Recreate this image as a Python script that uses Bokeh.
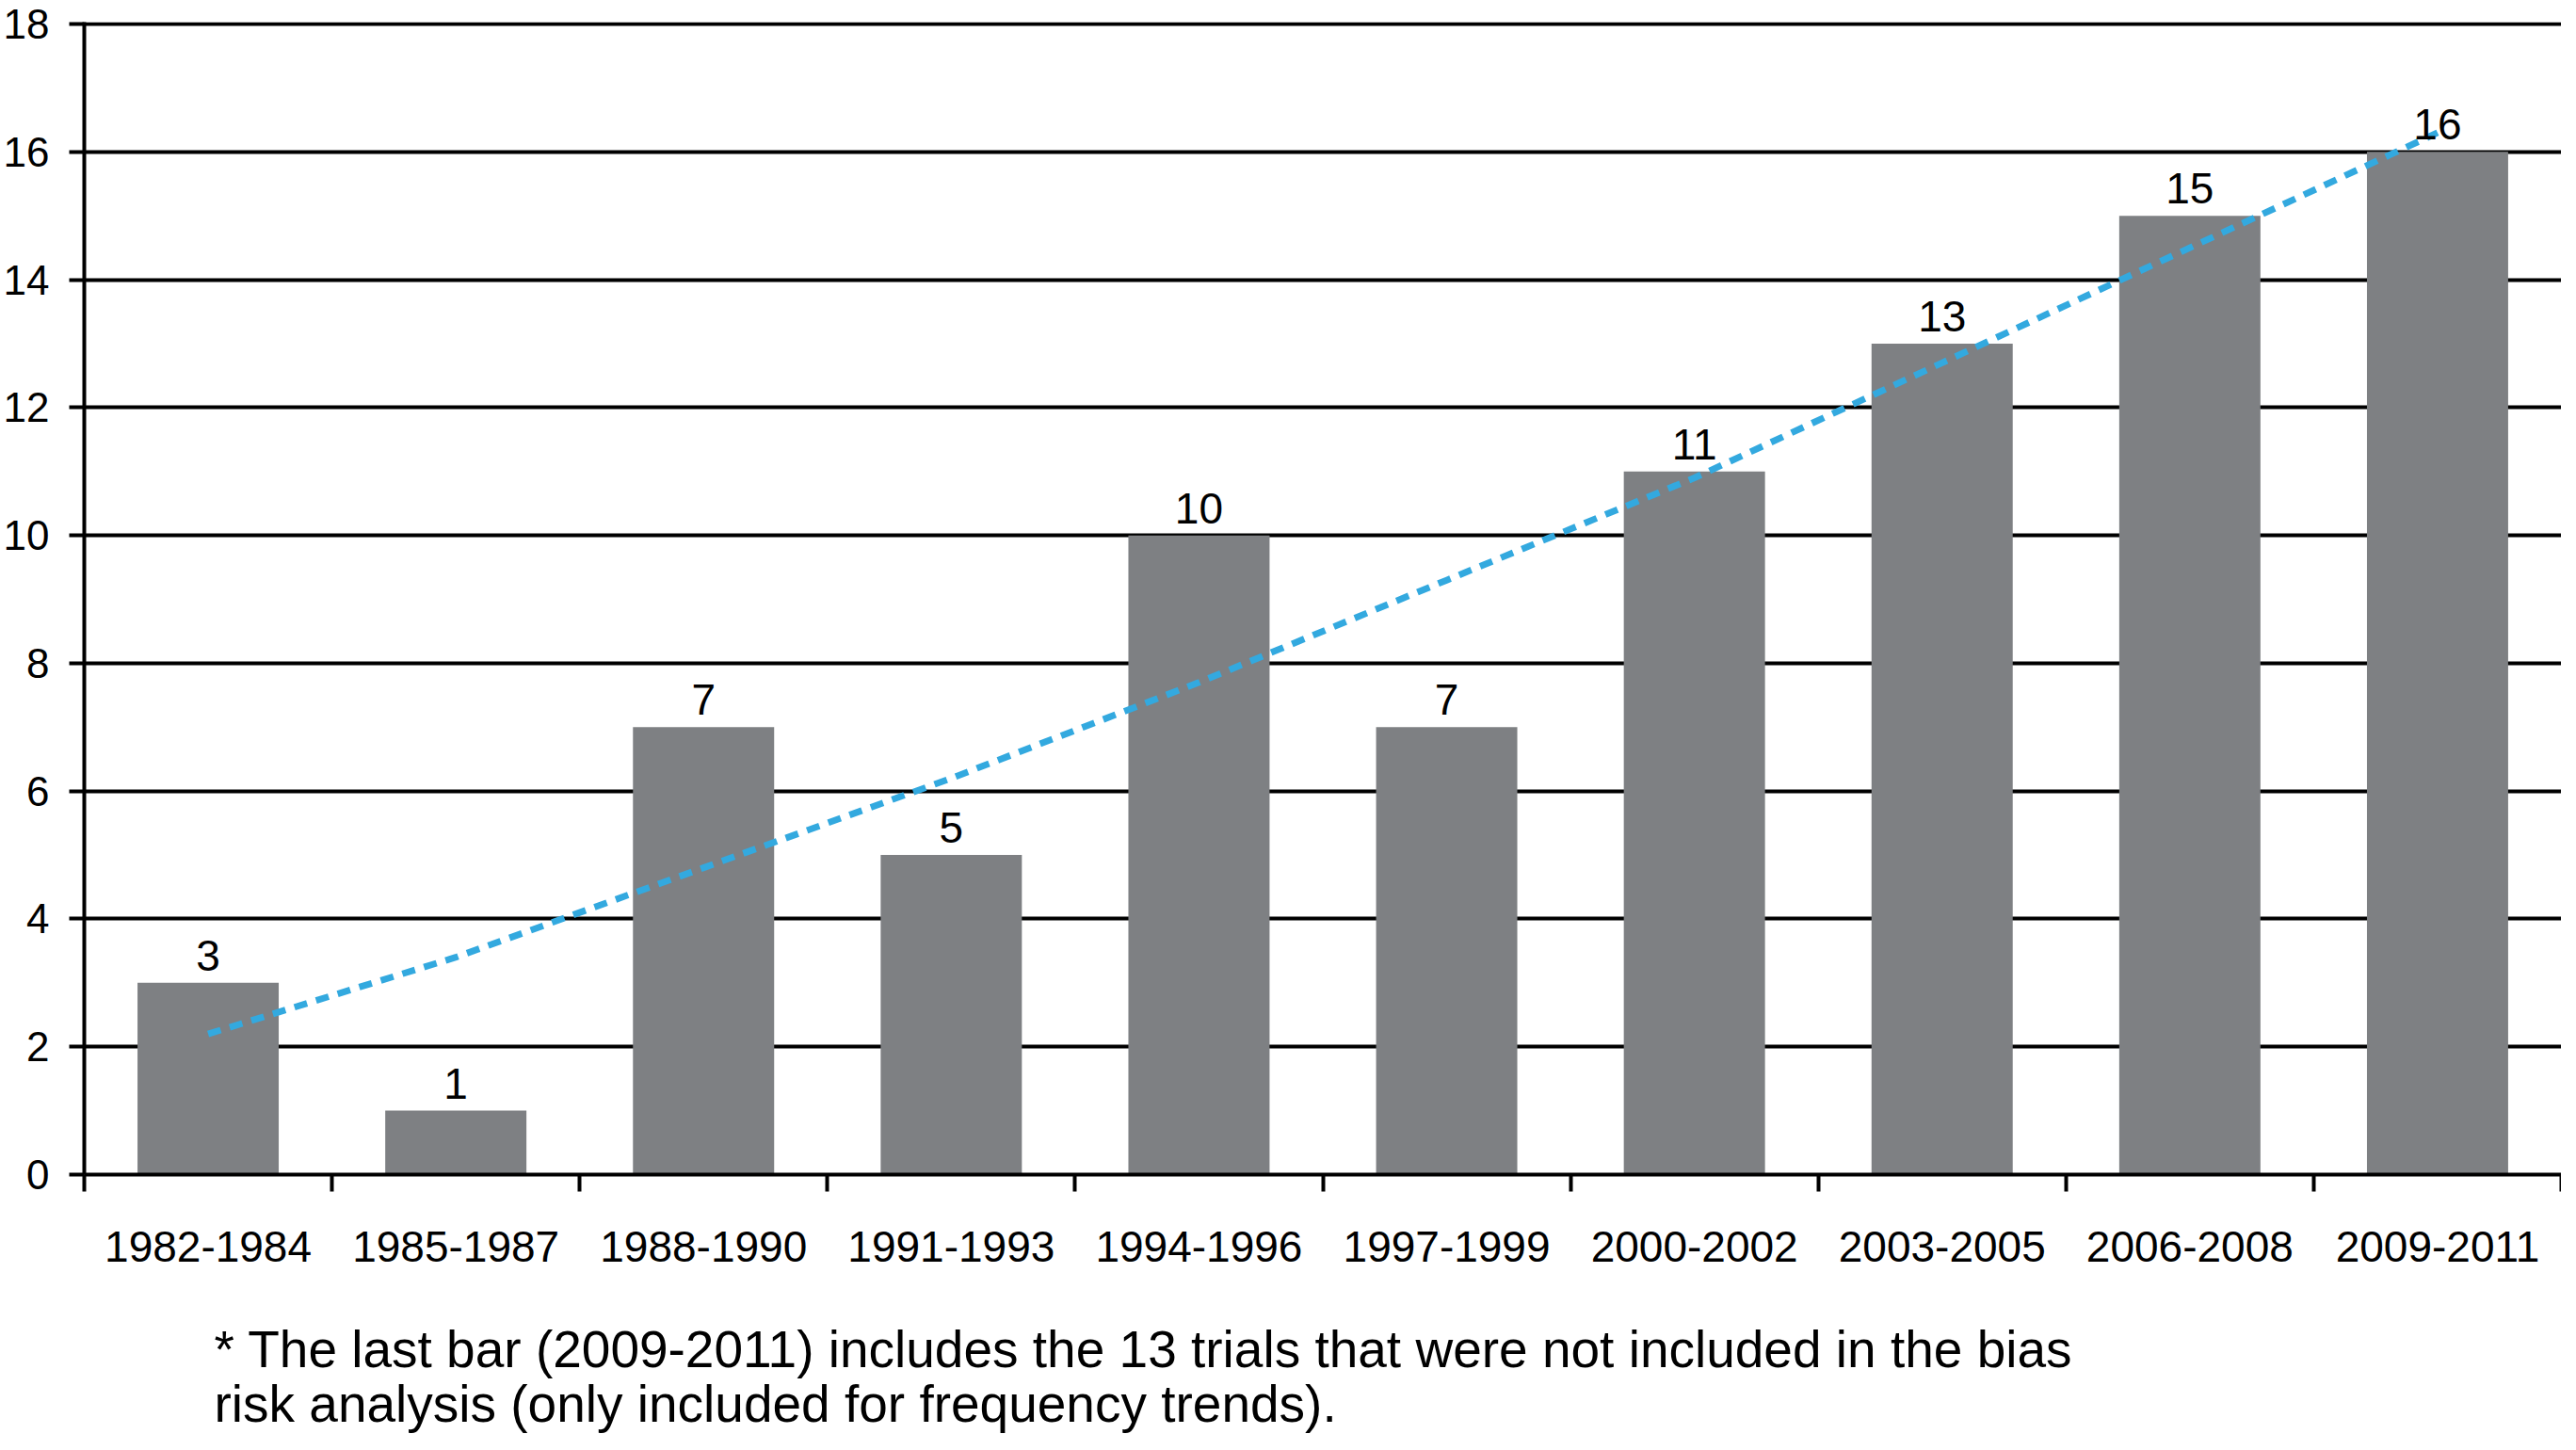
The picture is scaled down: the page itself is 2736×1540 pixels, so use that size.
from bokeh.plotting import figure
from bokeh.models import FixedTicker, ColumnDataSource, Range1d, Title
from bokeh.core.properties import value
from bokeh.embed import file_html
from bokeh.resources import INLINE

# ---- data ----
periods = ["1982-1984", "1985-1987", "1988-1990", "1991-1993", "1994-1996",
           "1997-1999", "2000-2002", "2003-2005", "2006-2008", "2009-2011"]
trials = [3, 1, 7, 5, 10, 7, 11, 13, 15, 16]
trend = [2.2, 3.4, 4.8, 6.2, 7.7, 9.3, 10.9, 12.7, 14.5, 16.3]
y_ticks = [0, 2, 4, 6, 8, 10, 12, 14, 16, 18]
footnote_lines = [
    "* The last bar (2009-2011) includes the 13 trials that were not included in the bias",
    "risk analysis (only included for frequency trends).",
]

FONT = "Liberation Sans"
BAR = "#7e8083"
TREND = "#33a9df"

W, H = 2720, 1524
TOP, BOTTOM, LEFT = 23, 276, 86
Y_END = 18.03

centers = [i + 0.5 for i in range(len(periods))]
src = ColumnDataSource(dict(x=centers, top=trials, trend=trend,
                            lab=[str(v) for v in trials]))

p = figure(width=W, height=H, x_range=Range1d(0, len(periods)),
           y_range=Range1d(0, Y_END), output_backend="svg",
           toolbar_location=None, min_border_left=LEFT, min_border_right=0,
           min_border_top=TOP, min_border_bottom=BOTTOM)
p.outline_line_color = None
p.background_fill_color = "white"
p.border_fill_color = "white"

p.vbar(x="x", top="top", bottom=0, width=0.57, source=src,
       fill_color=BAR, line_color=None)
p.line(x="x", y="trend", source=src, line_color=TREND, line_width=7,
       line_dash="14 10", line_cap="butt")
p.text(x="x", y="top", text="lab", source=src, text_align="center",
       text_baseline="alphabetic", y_offset=-29,
       text_font=value(FONT), text_font_size="46px", text_color="black")

# x axis: labels at centers, tick marks at boundaries
xa = p.xaxis[0]
xa.ticker = FixedTicker(ticks=centers, minor_ticks=list(range(len(periods) + 1)))
xa.major_label_overrides = {c: lab for c, lab in zip(centers, periods)}
xa.major_tick_line_color = None
xa.major_tick_out = 0
xa.major_tick_in = 0
xa.minor_tick_line_color = "black"
xa.minor_tick_line_width = 4
xa.minor_tick_out = 18
xa.minor_tick_in = 0
xa.axis_line_color = "black"
xa.axis_line_width = 4
xa.major_label_text_font = FONT
xa.major_label_text_font_size = "46px"
xa.major_label_text_color = "black"
xa.major_label_standoff = 42

ya = p.yaxis[0]
ya.ticker = FixedTicker(ticks=y_ticks, minor_ticks=[])
ya.major_tick_line_color = "black"
ya.major_tick_line_width = 4
ya.major_tick_out = 16
ya.major_tick_in = 0
ya.minor_tick_line_color = None
ya.axis_line_color = "black"
ya.axis_line_width = 4
ya.major_label_text_font = FONT
ya.major_label_text_font_size = "44px"
ya.major_label_text_color = "black"
ya.major_label_standoff = 21

p.xgrid.grid_line_color = None
p.ygrid.ticker = FixedTicker(ticks=y_ticks)
p.ygrid.grid_line_color = "black"
p.ygrid.grid_line_width = 4

# footnote as two title lines below the axis
for line, so in zip(footnote_lines, [118, -130]):
    p.add_layout(Title(text=line, align="left", offset=138,
                       vertical_align="top",
                       text_font=FONT, text_font_size="55px",
                       text_font_style="normal", text_color="black",
                       standoff=so), "below")

open("out.html", "w").write(file_html(p, INLINE))
